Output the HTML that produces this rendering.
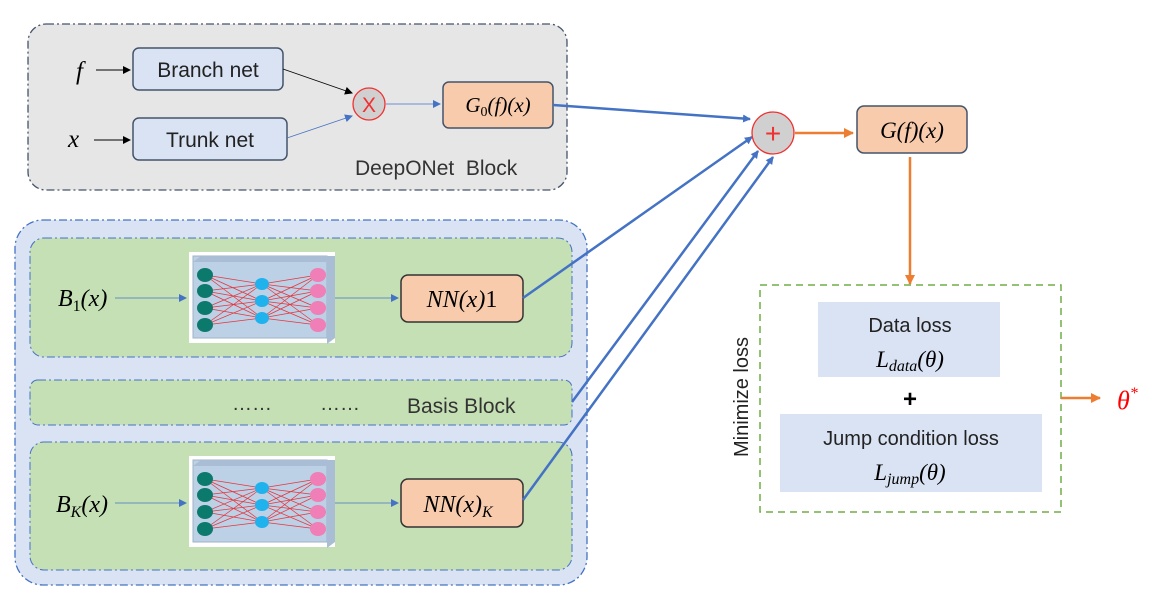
<!DOCTYPE html>
<html><head><meta charset="utf-8"><style>
html,body{margin:0;padding:0;background:#fff;width:1163px;height:591px;overflow:hidden}
text{font-family:"Liberation Sans",sans-serif}
.m{font-family:"Liberation Serif",serif;font-style:italic}
</style></head><body>
<svg width="1163" height="591" viewBox="0 0 1163 591" xmlns="http://www.w3.org/2000/svg">
<defs>
<marker id="ab" markerWidth="8" markerHeight="8" refX="7" refY="4" orient="auto" markerUnits="userSpaceOnUse"><path d="M0,0 L8,4 L0,8z" fill="#4472c4"/></marker>
<marker id="ak" markerWidth="8" markerHeight="8" refX="7" refY="4" orient="auto" markerUnits="userSpaceOnUse"><path d="M0,0 L8,4 L0,8z" fill="#000"/></marker>
<marker id="ao" markerWidth="10" markerHeight="10" refX="9" refY="5" orient="auto" markerUnits="userSpaceOnUse"><path d="M0,0 L10,5 L0,10z" fill="#ed7d31"/></marker>
<g id="nn">
<rect x="0" y="0" width="146" height="91" fill="#fff"/>
<rect x="4" y="4" width="134" height="82" fill="#bcd0e6" stroke="#9fb3c8"/>
<path d="M4,4 L12,-2 L146,-2 L138,4z M138,4 L146,-2 L146,80 L138,86z" fill="#a9bdd4" transform="translate(0,6)"/>
<g stroke="#e8343a" stroke-width="0.7">
<path d="M16,23L73,32M16,23L73,49M16,23L73,66M16,39L73,32M16,39L73,49M16,39L73,66M16,56L73,32M16,56L73,49M16,56L73,66M16,73L73,32M16,73L73,49M16,73L73,66"/>
<path d="M73,32L129,23M73,32L129,39M73,32L129,56M73,32L129,73M73,49L129,23M73,49L129,39M73,49L129,56M73,49L129,73M73,66L129,23M73,66L129,39M73,66L129,56M73,66L129,73"/>
</g>
<g fill="#0b7a6c"><ellipse cx="16" cy="23" rx="8" ry="7"/><ellipse cx="16" cy="39" rx="8" ry="7"/><ellipse cx="16" cy="56" rx="8" ry="7"/><ellipse cx="16" cy="73" rx="8" ry="7"/></g>
<g fill="#1fb2ec"><ellipse cx="73" cy="32" rx="7" ry="6"/><ellipse cx="73" cy="49" rx="7" ry="6"/><ellipse cx="73" cy="66" rx="7" ry="6"/></g>
<g fill="#ef7fb6"><ellipse cx="129" cy="23" rx="8" ry="7"/><ellipse cx="129" cy="39" rx="8" ry="7"/><ellipse cx="129" cy="56" rx="8" ry="7"/><ellipse cx="129" cy="73" rx="8" ry="7"/></g>
</g>
</defs>

<rect x="28" y="24" width="539" height="166" rx="18" fill="#e6e6e6" stroke="#44546a" stroke-width="1.3" stroke-dasharray="8,3,2,3"/>
<text x="76" y="79" class="m" font-size="25">f</text>
<line x1="96" y1="70" x2="130" y2="70" stroke="#000" marker-end="url(#ak)"/>
<text x="68" y="147" class="m" font-size="25">x</text>
<line x1="94" y1="140" x2="130" y2="140" stroke="#000" marker-end="url(#ak)"/>
<rect x="133" y="48" width="150" height="42" rx="6" fill="#dae3f3" stroke="#44546a" stroke-width="1.5"/>
<text x="208" y="77" font-size="21" text-anchor="middle" fill="#222">Branch net</text>
<rect x="133" y="118" width="154" height="42" rx="6" fill="#dae3f3" stroke="#44546a" stroke-width="1.5"/>
<text x="210" y="147" font-size="21" text-anchor="middle" fill="#222">Trunk net</text>
<line x1="283" y1="69" x2="352" y2="93" stroke="#000" stroke-width="0.8" marker-end="url(#ak)"/>
<line x1="287" y1="138" x2="352" y2="116" stroke="#4472c4" stroke-width="0.8" marker-end="url(#ab)"/>
<circle cx="369" cy="104" r="16" fill="#d0d0d0" stroke="#f03030" stroke-width="1.3"/>
<text x="369" y="112" font-size="21" text-anchor="middle" fill="#f03030">X</text>
<line x1="386" y1="104" x2="440" y2="104" stroke="#4472c4" stroke-width="0.8" marker-end="url(#ab)"/>
<rect x="443" y="82" width="110" height="46" rx="6" fill="#f8cbad" stroke="#44546a" stroke-width="1.5"/>
<text x="498" y="112" class="m" font-size="21" text-anchor="middle">G<tspan font-size="14" dy="4" font-style="normal">0</tspan><tspan dy="-4">(f)(x)</tspan></text>
<text x="355" y="175" font-size="21" fill="#333" style="white-space:pre">DeepONet  Block</text>

<rect x="15" y="220" width="572" height="365" rx="28" fill="#dae3f3" stroke="#4472c4" stroke-width="1.3" stroke-dasharray="8,3,2,3"/>
<rect x="30" y="238" width="542" height="119" rx="14" fill="#c5e0b4" stroke="#4472c4" stroke-width="1" stroke-dasharray="8,3,2,3"/>
<rect x="30" y="380" width="542" height="45" rx="8" fill="#c5e0b4" stroke="#4472c4" stroke-width="1" stroke-dasharray="8,3,2,3"/>
<rect x="30" y="442" width="542" height="128" rx="14" fill="#c5e0b4" stroke="#4472c4" stroke-width="1" stroke-dasharray="8,3,2,3"/>

<text x="58" y="306" class="m" font-size="24">B<tspan font-size="16" dy="5" font-style="normal">1</tspan><tspan dy="-5">(x)</tspan></text>
<line x1="115" y1="298" x2="186" y2="298" stroke="#4472c4" stroke-width="0.8" marker-end="url(#ab)"/>
<use href="#nn" x="189" y="252"/>
<line x1="335" y1="298" x2="398" y2="298" stroke="#4472c4" stroke-width="0.8" marker-end="url(#ab)"/>
<rect x="401" y="275" width="122" height="47" rx="7" fill="#f8cbad" stroke="#333" stroke-width="1.5"/>
<text x="462" y="307" class="m" font-size="24" text-anchor="middle">NN(x)<tspan font-style="normal">1</tspan></text>

<text x="232" y="410" font-size="20" fill="#333">……</text>
<text x="320" y="410" font-size="20" fill="#333">……</text>
<text x="407" y="413" font-size="21" fill="#333">Basis Block</text>

<text x="56" y="512" class="m" font-size="24">B<tspan font-size="16" dy="5">K</tspan><tspan dy="-5">(x)</tspan></text>
<line x1="115" y1="503" x2="186" y2="503" stroke="#4472c4" stroke-width="0.8" marker-end="url(#ab)"/>
<use href="#nn" x="189" y="456"/>
<line x1="335" y1="503" x2="398" y2="503" stroke="#4472c4" stroke-width="0.8" marker-end="url(#ab)"/>
<rect x="401" y="479" width="122" height="48" rx="7" fill="#f8cbad" stroke="#333" stroke-width="1.5"/>
<text x="458" y="512" class="m" font-size="24" text-anchor="middle">NN(x)<tspan font-size="16" dy="5">K</tspan></text>

<g stroke="#4472c4" stroke-width="2.5" fill="none">
<line x1="553" y1="105" x2="750" y2="119" marker-end="url(#ab)"/>
<line x1="523" y1="298" x2="752" y2="137" marker-end="url(#ab)"/>
<line x1="572" y1="402" x2="758" y2="151" marker-end="url(#ab)"/>
<line x1="523" y1="500" x2="773" y2="157" marker-end="url(#ab)"/>
</g>
<circle cx="773" cy="133" r="21" fill="#d0d0d0" stroke="#f03030" stroke-width="1.3"/>
<text x="773" y="143" font-size="28" text-anchor="middle" fill="#f03030">+</text>
<line x1="795" y1="133" x2="853" y2="133" stroke="#ed7d31" stroke-width="2.5" marker-end="url(#ao)"/>
<rect x="857" y="106" width="110" height="47" rx="7" fill="#f8cbad" stroke="#44546a" stroke-width="1.5"/>
<text x="912" y="138" class="m" font-size="23" text-anchor="middle">G(f)(x)</text>
<line x1="910" y1="157" x2="910" y2="284" stroke="#ed7d31" stroke-width="2.5" marker-end="url(#ao)"/>

<rect x="760" y="285" width="301" height="227" fill="#fff" stroke="#70ad47" stroke-width="1.5" stroke-dasharray="7,5"/>
<rect x="818" y="302" width="182" height="75" fill="#dae3f3"/>
<text x="910" y="332" font-size="20" text-anchor="middle" fill="#222">Data loss</text>
<text x="910" y="367" class="m" font-size="23" text-anchor="middle">L<tspan font-size="16" dy="4">data</tspan><tspan dy="-4">(θ)</tspan></text>
<text x="910" y="407" font-size="24" font-weight="bold" text-anchor="middle">+</text>
<rect x="780" y="414" width="262" height="78" fill="#dae3f3"/>
<text x="911" y="445" font-size="20" text-anchor="middle" fill="#222">Jump condition loss</text>
<text x="910" y="480" class="m" font-size="23" text-anchor="middle">L<tspan font-size="16" dy="4">jump</tspan><tspan dy="-4">(θ)</tspan></text>
<text transform="translate(748,397) rotate(-90)" font-size="20" text-anchor="middle" fill="#222">Minimize loss</text>
<line x1="1061" y1="398" x2="1100" y2="398" stroke="#ed7d31" stroke-width="2.5" marker-end="url(#ao)"/>
<text x="1117" y="409" class="m" font-size="26" fill="#f00">θ<tspan font-size="16" dy="-11">*</tspan></text>
</svg>
</body></html>
